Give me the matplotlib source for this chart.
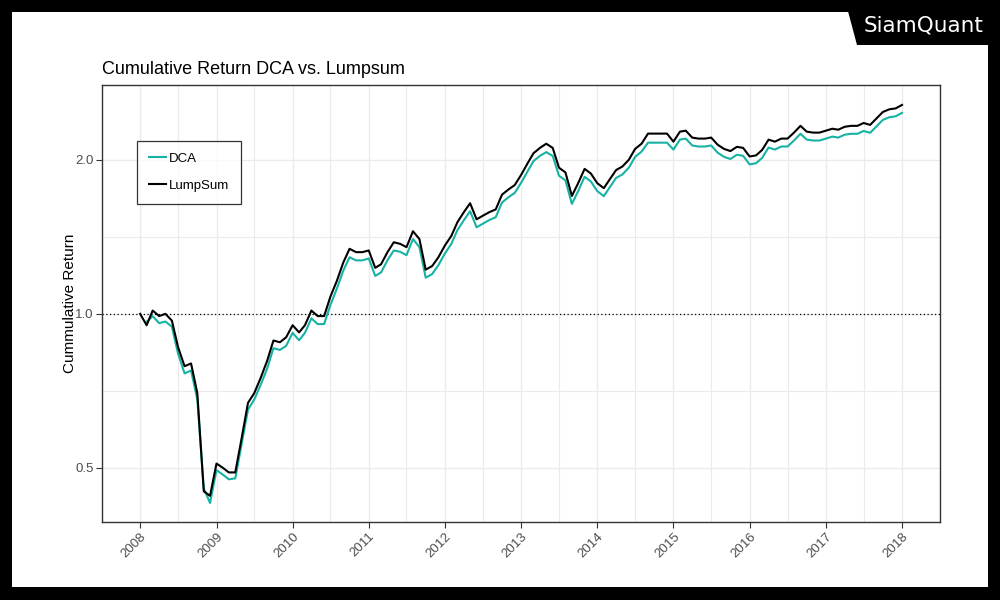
import numpy as np
import pandas as pd
import matplotlib
matplotlib.use("Agg")
import matplotlib.pyplot as plt
import matplotlib.dates as mdates
from matplotlib.patches import Rectangle, Polygon

# monthly observations, Jan 2008 .. Jan 2018
dates = pd.date_range("2008-01-01", "2018-01-01", freq="MS")

lumpsum = [
    1.00, 0.95, 1.015, 0.99, 1.00, 0.97, 0.86, 0.79, 0.80, 0.70, 0.45, 0.441,
    0.51, 0.50, 0.49, 0.49, 0.57, 0.67, 0.70, 0.75, 0.81, 0.887, 0.88, 0.90,
    0.95, 0.92, 0.95, 1.015, 0.99, 0.99, 1.08, 1.16, 1.26, 1.34, 1.32, 1.32,
    1.33, 1.23, 1.25, 1.32, 1.38, 1.37, 1.35, 1.45, 1.40, 1.22, 1.24, 1.29,
    1.36, 1.42, 1.51, 1.58, 1.645, 1.53, 1.555, 1.58, 1.60, 1.71, 1.75, 1.785,
    1.87, 1.97, 2.06, 2.11, 2.15, 2.11, 1.93, 1.89, 1.70, 1.80, 1.92, 1.88,
    1.80, 1.76, 1.83, 1.91, 1.94, 2.00, 2.10, 2.15, 2.25, 2.25, 2.25, 2.25,
    2.17, 2.27, 2.28, 2.21, 2.20, 2.20, 2.21, 2.14, 2.10, 2.08, 2.12, 2.11,
    2.03, 2.04, 2.09, 2.19, 2.17, 2.20, 2.20, 2.26, 2.33, 2.27, 2.26, 2.26,
    2.28, 2.30, 2.29, 2.32, 2.33, 2.33, 2.36, 2.34, 2.41, 2.48, 2.51, 2.52,
    2.56,
]

dca = [
    np.nan, 0.965, 0.99, 0.959, 0.966, 0.944, 0.835, 0.765, 0.775, 0.68, 0.456, 0.427,
    0.495, 0.485, 0.475, 0.477, 0.555, 0.65, 0.68, 0.727, 0.782, 0.857, 0.85, 0.866,
    0.918, 0.888, 0.918, 0.98, 0.955, 0.955, 1.04, 1.12, 1.215, 1.29, 1.272, 1.272,
    1.283, 1.186, 1.205, 1.273, 1.33, 1.322, 1.302, 1.40, 1.35, 1.177, 1.196, 1.245,
    1.312, 1.37, 1.457, 1.524, 1.587, 1.476, 1.50, 1.525, 1.545, 1.65, 1.69, 1.723,
    1.805, 1.90, 1.988, 2.036, 2.07, 2.035, 1.862, 1.823, 1.64, 1.737, 1.853, 1.814,
    1.737, 1.698, 1.766, 1.843, 1.872, 1.93, 2.026, 2.075, 2.16, 2.16, 2.16, 2.16,
    2.094, 2.19, 2.20, 2.133, 2.123, 2.123, 2.133, 2.065, 2.026, 2.007, 2.046, 2.036,
    1.959, 1.969, 2.017, 2.113, 2.094, 2.123, 2.123, 2.181, 2.248, 2.19, 2.181, 2.181,
    2.20, 2.22, 2.21, 2.239, 2.248, 2.248, 2.277, 2.258, 2.326, 2.393, 2.422, 2.432,
    2.47,
]

y_ticks = [0.5, 1.0, 2.0]
y_tick_labels = ["0.5", "1.0", "2.0"]

teal = "#16B3A4"
dark = "#4D4D4D"

plt.rcParams["font.family"] = ["Liberation Sans", "DejaVu Sans"]

fig = plt.figure(figsize=(10, 6), dpi=100)
fig.patch.set_facecolor("black")
# white card inside the black frame
fig.patches.append(Rectangle((12 / 1000, 13 / 600), 976 / 1000, 575 / 600,
                             transform=fig.transFigure, facecolor="white",
                             edgecolor="none", zorder=-2))
# logo tab
fig.patches.append(Polygon([(845 / 1000, 1.0), (1.0, 1.0), (1.0, 1 - 45 / 600),
                            (857 / 1000, 1 - 45 / 600)], closed=True,
                           transform=fig.transFigure, facecolor="black",
                           edgecolor="none", zorder=-1))
fig.text(0.9235, 1 - 26 / 600, "SiamQuant", color="white", fontsize=15.5,
         ha="center", va="center", family="DejaVu Sans")

ax = fig.add_axes([0.102, 0.13, 0.838, 1 - 85 / 600 - 0.13])
ax.set_facecolor("white")

ax.plot(dates, dca, color=teal, lw=1.5, label="DCA", zorder=3)
ax.plot(dates, lumpsum, color="black", lw=1.5, label="LumpSum", zorder=4)
ax.axhline(1.0, color="black", lw=0.9, ls=(0, (1, 2)), zorder=2)

ax.set_yscale("log")
ax.set_ylim(0.392, 2.80)
ax.set_yticks(y_ticks)
ax.set_yticklabels(y_tick_labels)
ax.set_yticks([2 ** -0.5, 2 ** 0.5], minor=True)
ax.yaxis.set_minor_formatter(matplotlib.ticker.NullFormatter())

ax.set_xlim(pd.Timestamp("2007-07-02"), pd.Timestamp("2018-07-02"))
ax.xaxis.set_major_locator(mdates.YearLocator())
ax.xaxis.set_major_formatter(mdates.DateFormatter("%Y"))
ax.xaxis.set_minor_locator(mdates.MonthLocator(bymonth=7))

ax.grid(True, which="major", color="#EBEBEB", lw=1.0, zorder=0)
ax.grid(True, which="minor", color="#EBEBEB", lw=0.8, zorder=0)
ax.set_axisbelow(True)

ax.tick_params(which="major", length=4, width=0.8, color="#333333",
               labelcolor=dark, labelsize=9.5, pad=2)
ax.tick_params(which="minor", length=0)
plt.setp(ax.get_xticklabels(), rotation=45, ha="right", rotation_mode="anchor")

for s in ax.spines.values():
    s.set_color("#333333")
    s.set_linewidth(1.0)

ax.set_ylabel("Cummulative Return", fontsize=11, color="black", labelpad=-1)
ax.set_title("Cumulative Return DCA vs. Lumpsum", loc="left", fontsize=13,
             color="black", pad=8)

leg = ax.legend(loc="upper left", bbox_to_anchor=(0.042, 0.872), fontsize=9.5,
                frameon=True, fancybox=False, handlelength=1.3,
                handletextpad=0.2, borderpad=0.9, labelspacing=1.1,
                borderaxespad=0)
leg.get_frame().set_edgecolor("black")
leg.get_frame().set_linewidth(0.9)

fig.savefig("out.png", dpi=100, facecolor=fig.get_facecolor())
